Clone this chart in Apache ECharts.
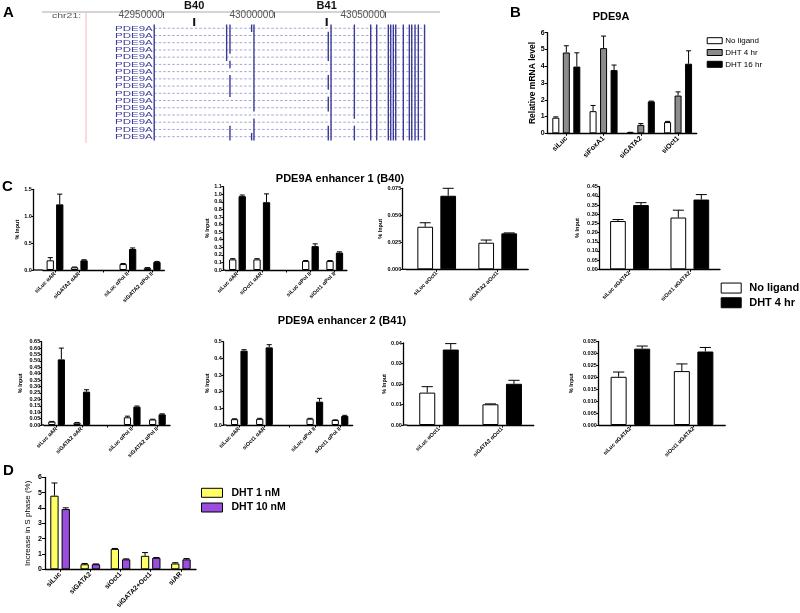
<!DOCTYPE html>
<html><head><meta charset="utf-8">
<script src="https://cdn.jsdelivr.net/npm/echarts@6/dist/echarts.min.js"></script>
<style>html,body{margin:0;padding:0;background:#fff}#c{width:800px;height:613px}</style>
</head><body><div id="c"></div>
<script>
// ================= DATA =================
// Panel A : genome browser (chr21)
const genomeTicks = [42950000, 43000000, 43050000];
const trackLabels = ['PDE9A','PDE9A','PDE9A','PDE9A','PDE9A','PDE9A','PDE9A','PDE9A','PDE9A','PDE9A','PDE9A','PDE9A','PDE9A','PDE9A','PDE9A','PDE9A'];
const trackStart = 42946100;
const trackEnd = 43067800;
const ALL = [0,1,2,3,4,5,6,7,8,9,10,11,12,13,14,15];
const exonPositions = [42946100, 42978700, 42980200, 42989950, 42991000, 43024460, 43025700, 43036200,
  43043560, 43046260, 43051490, 43052570, 43053740, 43054820, 43058240, 43060950, 43062030, 43063510, 43065000, 43067800];
const exonRows = [
  ALL,
  [0,1,2,3,4],
  [0,1,2,3,5,7,8,9,14,15],
  [0,15],
  [0,1,2,3,4,5,6,7,8,9,10,11,13,14,15],
  [1,2,3,4,7,8,10,11,14,15],
  ALL,
  [0,1,2,3,4,5,6,7,8,9,10,11,12,14,15],
  ALL, ALL, ALL, ALL, ALL, ALL, ALL, ALL, ALL, ALL, ALL, ALL
];
const enhancerNames = ['B40', 'B41'];
const enhancerPositions = [42964100, 43023740];

// Panel B : PDE9A mRNA
const bCategories = ['siLuc', 'siFoxA1', 'siGATA2', 'siOct1'];
const bNoLigand = [0.93, 1.32, 0.05, 0.67];
const bNoLigandErr = [0.05, 0.34, 0.01, 0.04];
const bDht4 = [4.82, 5.08, 0.50, 2.25];
const bDht4Err = [0.40, 0.72, 0.08, 0.22];
const bDht16 = [3.98, 3.77, 1.90, 4.15];
const bDht16Err = [0.82, 0.30, 0.02, 0.77];

// Panel C : ChIP (% input)
const c1Categories = ['siLuc αAR', 'siGATA2 αAR', '', 'siLuc αPol II', 'siGATA2 αPol II'];
const c1NoLigand = [0.18, 0.05, null, 0.11, 0.04];
const c1NoLigandErr = [0.05, 0.005, null, 0.01, 0.005];
const c1Dht4 = [1.22, 0.18, null, 0.39, 0.15];
const c1Dht4Err = [0.19, 0.01, null, 0.02, 0.01];

const c2Categories = ['siLuc αAR', 'siOct1 αAR', '', 'siLuc αPol II', 'siOct1 αPol II'];
const c2NoLigand = [0.14, 0.14, null, 0.12, 0.12];
const c2NoLigandErr = [0.01, 0.01, null, 0.005, 0.005];
const c2Dht4 = [0.975, 0.895, null, 0.315, 0.23];
const c2Dht4Err = [0.015, 0.11, null, 0.03, 0.01];

const c3Categories = ['siLuc αOct1', 'siGATA2 αOct1'];
const c3NoLigand = [0.0394, 0.0246];
const c3NoLigandErr = [0.0037, 0.0025];
const c3Dht4 = [0.0681, 0.0333];
const c3Dht4Err = [0.0069, 0.0004];

const c4Categories = ['siLuc αGATA2', 'siOct1 αGATA2'];
const c4NoLigand = [0.263, 0.282];
const c4NoLigandErr = [0.008, 0.040];
const c4Dht4 = [0.350, 0.380];
const c4Dht4Err = [0.013, 0.027];

const c5Categories = ['siLuc αAR', 'siGATA2 αAR', '', 'siLuc αPol II', 'siGATA2 αPol II'];
const c5NoLigand = [0.026, 0.018, null, 0.060, 0.043];
const c5NoLigandErr = [0.002, 0.002, null, 0.009, 0.002];
const c5Dht4 = [0.512, 0.260, null, 0.143, 0.083];
const c5Dht4Err = [0.088, 0.015, null, 0.005, 0.004];

const c6Categories = ['siLuc αAR', 'siOct1 αAR', '', 'siLuc αPol II', 'siOct1 αPol II'];
const c6NoLigand = [0.035, 0.037, null, 0.038, 0.030];
const c6NoLigandErr = [0.002, 0.003, null, 0.002, 0.001];
const c6Dht4 = [0.446, 0.466, null, 0.140, 0.054];
const c6Dht4Err = [0.006, 0.016, null, 0.020, 0.004];

const c7Categories = ['siLuc αOct1', 'siGATA2 αOct1'];
const c7NoLigand = [0.0158, 0.0101];
const c7NoLigandErr = [0.0029, 0.0002];
const c7Dht4 = [0.0368, 0.0201];
const c7Dht4Err = [0.0029, 0.0017];

const c8Categories = ['siLuc αGATA2', 'siOct1 αGATA2'];
const c8NoLigand = [0.0202, 0.0226];
const c8NoLigandErr = [0.0020, 0.0030];
const c8Dht4 = [0.0320, 0.0308];
const c8Dht4Err = [0.0011, 0.0017];

// Panel D : S phase
const dCategories = ['siLuc', 'siGATA2', 'siOct1', 'siGATA2+Oct1', 'siAR'];
const dDht1 = [4.80, 0.33, 1.33, 0.88, 0.38];
const dDht1Err = [0.83, 0.05, 0.03, 0.21, 0.05];
const dDht10 = [3.93, 0.33, 0.65, 0.75, 0.65];
const dDht10Err = [0.08, 0.02, 0.03, 0.02, 0.05];

// ================= LAYOUT / STYLE =================
const FONT = 'Liberation Sans';
const grids = [], xAxes = [], yAxes = [], series = [], graphics = [];

function errorSeries(ax, vals, errs, k, n, barW, gapFrac, capW) {
  const data = [];
  vals.forEach((v, i) => { if (v != null && errs[i] != null) data.push([i, v, v + errs[i]]); });
  return {
    type: 'custom', xAxisIndex: ax, yAxisIndex: ax, z: 5, silent: true, data,
    encode: { x: 0, y: [1, 2] },
    renderItem: (params, api) => {
      const p0 = api.coord([api.value(0), api.value(1)]);
      const p1 = api.coord([api.value(0), api.value(2)]);
      const gap = barW * gapFrac, total = n * barW + (n - 1) * gap;
      const x = p0[0] - total / 2 + barW / 2 + k * (barW + gap);
      return { type: 'group', children: [
        { type: 'line', shape: { x1: x, y1: p0[1], x2: x, y2: p1[1] }, style: { stroke: '#000', lineWidth: 1 } },
        { type: 'line', shape: { x1: x - capW / 2, y1: p1[1], x2: x + capW / 2, y2: p1[1] }, style: { stroke: '#000', lineWidth: 1 } }
      ]};
    }
  };
}

function barAxes(idx, L, cats, o) {
  grids.push({ left: L.left, top: L.top, width: L.width, height: L.height });
  xAxes.push({
    type: 'category', gridIndex: idx, data: cats,
    axisLine: { show: true, lineStyle: { color: '#000', width: 1.3 } },
    axisTick: { show: true, alignWithLabel: true, length: 2.5, lineStyle: { color: '#000' } },
    axisLabel: { interval: 0, rotate: 45, fontSize: o.xFont, fontWeight: 'bold', color: '#000', fontFamily: FONT, margin: o.xMargin || 3 },
    splitLine: { show: false }
  });
  yAxes.push({
    type: 'value', gridIndex: idx, min: 0, max: L.max, interval: L.interval,
    offset: L.left - L.axisX,
    name: o.name, nameLocation: 'middle', nameRotate: 90, nameGap: L.nameGap,
    nameTextStyle: { fontSize: o.nameFont, fontWeight: o.nameWeight || 'bold', color: '#000', fontFamily: FONT },
    axisLine: { show: true, lineStyle: { color: '#000', width: 1.3 } },
    axisTick: { show: true, length: o.tickLen || 2.5, lineStyle: { color: '#000' } },
    axisLabel: { fontSize: o.yFont, fontWeight: 'bold', color: '#000', fontFamily: FONT, margin: o.yMargin || 2,
      formatter: v => v.toFixed(L.digits) },
    splitLine: { show: false }
  });
  if (L.left - L.axisX > 0.3) {
    graphics.push({ type: 'line', silent: true, shape: { x1: L.axisX, y1: L.top + L.height, x2: L.left, y2: L.top + L.height },
      style: { stroke: '#000', lineWidth: 1.3 } });
  }
}

// ---------- Panel A ----------
grids.push({ left: 154, top: 12, width: 271, height: 131.9 });
xAxes.push({
  type: 'value', gridIndex: 0, position: 'top', min: 42946000, max: 43068000,
  axisLine: { show: false, onZero: false },
  axisTick: { show: true, inside: true, length: 6, customValues: genomeTicks, lineStyle: { color: '#555' } },
  axisLabel: { show: true, inside: true, customValues: genomeTicks, align: 'right', verticalAlign: 'middle', margin: 3.5,
    fontSize: 10, color: '#555', fontFamily: FONT, formatter: v => String(v) },
  splitLine: { show: false }
});
yAxes.push({
  type: 'value', gridIndex: 0, inverse: true, min: -2.25, max: 16,
  axisLine: { show: false, onZero: false }, axisTick: { show: false }, splitLine: { show: false },
  axisLabel: { show: false }
});
const intronData = trackLabels.map((t, i) => [i, trackStart, trackEnd]);
series.push({
  type: 'custom', xAxisIndex: 0, yAxisIndex: 0, silent: true, data: intronData, clip: false,
  encode: { y: 0, x: [1, 2] },
  renderItem: (params, api) => {
    const a = api.coord([api.value(1), api.value(0)]);
    const b = api.coord([api.value(2), api.value(0)]);
    return { type: 'group', children: [
      { type: 'line', shape: { x1: a[0], y1: a[1], x2: b[0], y2: b[1] },
        style: { stroke: '#a4a4da', lineWidth: 1, lineDash: [2.5, 2] } },
      { type: 'text', x: a[0] - 1.5, y: a[1] + 0.3, scaleY: 0.62,
        style: { text: trackLabels[params.dataIndex], x: 0, y: 0, align: 'right', verticalAlign: 'middle',
        fontSize: 11.5, fontFamily: FONT, fill: '#3c3c9a' } }
    ]};
  }
});
const exonData = [];
exonPositions.forEach((p, j) => exonRows[j].forEach(r => exonData.push([p, r])));
series.push({
  type: 'custom', xAxisIndex: 0, yAxisIndex: 0, silent: true, z: 3, data: exonData,
  encode: { x: 0, y: 1 },
  renderItem: (params, api) => {
    const c = api.coord([api.value(0), api.value(1)]);
    const h = api.size([0, 1])[1] + 0.3;
    return { type: 'rect', shape: { x: c[0] - 0.7, y: c[1] - h / 2, width: 1.4, height: h }, style: { fill: '#3a3a96' } };
  }
});
series.push({
  type: 'custom', xAxisIndex: 0, yAxisIndex: 0, silent: true, z: 4, clip: false,
  data: enhancerPositions.map((p, i) => [p, -0.87, enhancerNames[i]]),
  encode: { x: 0, y: 1 },
  renderItem: (params, api) => {
    const c = api.coord([api.value(0), api.value(1)]);
    return { type: 'group', children: [
      { type: 'rect', shape: { x: c[0] - 1, y: c[1] - 4, width: 2, height: 8 }, style: { fill: '#111' } },
      { type: 'text', style: { text: enhancerNames[params.dataIndex], x: c[0], y: c[1] - 16, align: 'center', verticalAlign: 'middle',
        fontSize: 11, fontWeight: 'bold', fontFamily: FONT, fill: '#111' } }
    ]};
  }
});
graphics.push({ type: 'line', silent: true, shape: { x1: 42, y1: 12, x2: 440, y2: 12 }, style: { stroke: '#aaa', lineWidth: 1 } });
graphics.push({ type: 'line', silent: true, shape: { x1: 86, y1: 12, x2: 86, y2: 143 }, style: { stroke: '#f2b8b8', lineWidth: 1 } });
graphics.push({ type: 'text', silent: true, x: 52, y: 15.5, scaleY: 0.75,
  style: { text: 'chr21:', x: 0, y: 0, fontSize: 10.5, fill: '#555', fontFamily: FONT, verticalAlign: 'middle' } });

// ---------- Panel B ----------
barAxes(1, { left: 547.7, axisX: 547.7, top: 32.7, width: 149, height: 100.6, max: 6, interval: 1, digits: 0, nameGap: 10 }, bCategories,
  { name: 'Relative mRNA level', nameFont: 8.5, xFont: 7, yFont: 7, tickLen: 3, yMargin: 3, xMargin: 4 });
const bSeries = [
  { name: 'No ligand', v: bNoLigand, e: bNoLigandErr, color: '#fff' },
  { name: 'DHT 4 hr', v: bDht4, e: bDht4Err, color: '#8c8c8c' },
  { name: 'DHT 16 hr', v: bDht16, e: bDht16Err, color: '#000' }
];
bSeries.forEach((s, k) => {
  series.push({ type: 'bar', name: s.name, xAxisIndex: 1, yAxisIndex: 1, data: s.v, barWidth: 7, barGap: '50%',
    itemStyle: { color: s.color, borderColor: '#000', borderWidth: 1 } });
});
bSeries.forEach((s, k) => series.push(errorSeries(1, s.v, s.e, k, 3, 7, 0.5, 5)));

// ---------- Panel C ----------
const cLayout = [
  { axisX: 33.3, left: 42.85, width: 121.5, top: 189.3, height: 80.7, max: 1.5, interval: 0.5, digits: 1, nameGap: 6.3, barW: 7.3, gap: 0.3 },
  { axisX: 223.3, left: 225.3, width: 121.6, top: 186.7, height: 83.3, max: 1.1, interval: 0.1, digits: 1, nameGap: 12, barW: 7.3, gap: 0.3 },
  { axisX: 402.7, left: 406.2, width: 122, top: 188.3, height: 81, max: 0.075, interval: 0.025, digits: 3, nameGap: 14, barW: 15.7, gap: 0.465 },
  { axisX: 599.3, left: 599.3, width: 120.7, top: 186.7, height: 82.6, max: 0.45, interval: 0.05, digits: 2, nameGap: 18.5, barW: 15.7, gap: 0.465 },
  { axisX: 41.7, left: 44, width: 126, top: 341.7, height: 83.3, max: 0.65, interval: 0.05, digits: 2, nameGap: 18, barW: 7.2, gap: 0.32 },
  { axisX: 223.3, left: 226.7, width: 125.9, top: 341.7, height: 83.3, max: 0.5, interval: 0.1, digits: 1, nameGap: 13, barW: 7.2, gap: 0.32 },
  { axisX: 403.3, left: 407.4, width: 126.4, top: 343, height: 82, max: 0.04, interval: 0.01, digits: 2, nameGap: 14.5, barW: 16, gap: 0.47 },
  { axisX: 598.3, left: 598.8, width: 126.4, top: 341.5, height: 83.5, max: 0.035, interval: 0.005, digits: 3, nameGap: 24, barW: 16, gap: 0.47 }
];
const cData = [
  [c1Categories, c1NoLigand, c1NoLigandErr, c1Dht4, c1Dht4Err],
  [c2Categories, c2NoLigand, c2NoLigandErr, c2Dht4, c2Dht4Err],
  [c3Categories, c3NoLigand, c3NoLigandErr, c3Dht4, c3Dht4Err],
  [c4Categories, c4NoLigand, c4NoLigandErr, c4Dht4, c4Dht4Err],
  [c5Categories, c5NoLigand, c5NoLigandErr, c5Dht4, c5Dht4Err],
  [c6Categories, c6NoLigand, c6NoLigandErr, c6Dht4, c6Dht4Err],
  [c7Categories, c7NoLigand, c7NoLigandErr, c7Dht4, c7Dht4Err],
  [c8Categories, c8NoLigand, c8NoLigandErr, c8Dht4, c8Dht4Err]
];
cLayout.forEach((L, j) => {
  const ax = 2 + j;
  const [cats, w, we, b, be] = cData[j];
  barAxes(ax, L, cats, { name: '% Input', nameFont: 5.5, xFont: 5.5, yFont: 5.5, tickLen: 2, yMargin: 1.5, xMargin: 3 });
  const gapStr = (L.gap * 100) + '%';
  series.push({ type: 'bar', name: 'No ligand', xAxisIndex: ax, yAxisIndex: ax, data: w, barWidth: L.barW, barGap: gapStr,
    itemStyle: { color: '#fff', borderColor: '#000', borderWidth: 1 } });
  series.push({ type: 'bar', name: 'DHT 4 hr ', xAxisIndex: ax, yAxisIndex: ax, data: b, barWidth: L.barW, barGap: gapStr,
    itemStyle: { color: '#000', borderColor: '#000', borderWidth: 1 } });
  series.push(errorSeries(ax, w, we, 0, 2, L.barW, L.gap, L.barW * 0.7));
  series.push(errorSeries(ax, b, be, 1, 2, L.barW, L.gap, L.barW * 0.7));
});

// ---------- Panel D ----------
barAxes(10, { left: 45, axisX: 45, top: 477.3, width: 151, height: 92, max: 6, interval: 1, digits: 0, nameGap: 13 }, dCategories,
  { name: 'Increase in S phase (%)', nameFont: 8, nameWeight: 'normal', xFont: 6.8, yFont: 7, tickLen: 3, yMargin: 3, xMargin: 4 });
series.push({ type: 'bar', name: 'DHT 1 nM', xAxisIndex: 10, yAxisIndex: 10, data: dDht1, barWidth: 8.3, barGap: '36%',
  itemStyle: { color: '#ffff66', borderColor: '#000', borderWidth: 1 } });
series.push({ type: 'bar', name: 'DHT 10 nM', xAxisIndex: 10, yAxisIndex: 10, data: dDht10, barWidth: 8.3, barGap: '36%',
  itemStyle: { color: '#9b4ddc', borderColor: '#000', borderWidth: 1 } });
series.push(errorSeries(10, dDht1, dDht1Err, 0, 2, 8.3, 0.36, 6));
series.push(errorSeries(10, dDht10, dDht10Err, 1, 2, 8.3, 0.36, 6));

// ---------- titles & legends ----------
const titles = [
  { text: 'A', left: 3, top: 5, textStyle: { fontSize: 15, fontWeight: 'bold', fontFamily: FONT, color: '#000' } },
  { text: 'B', left: 510, top: 5, textStyle: { fontSize: 15, fontWeight: 'bold', fontFamily: FONT, color: '#000' } },
  { text: 'C', left: 2, top: 179, textStyle: { fontSize: 15, fontWeight: 'bold', fontFamily: FONT, color: '#000' } },
  { text: 'D', left: 3, top: 463, textStyle: { fontSize: 15, fontWeight: 'bold', fontFamily: FONT, color: '#000' } },
  { text: 'PDE9A', left: 611, top: 11, textAlign: 'center', textStyle: { fontSize: 11, fontWeight: 'bold', fontFamily: FONT, color: '#000' } },
  { text: 'PDE9A enhancer 1 (B40)', left: 340, top: 173, textAlign: 'center', textStyle: { fontSize: 11, fontWeight: 'bold', fontFamily: FONT, color: '#000' } },
  { text: 'PDE9A enhancer 2 (B41)', left: 342, top: 315, textAlign: 'center', textStyle: { fontSize: 11, fontWeight: 'bold', fontFamily: FONT, color: '#000' } }
].map(t => Object.assign({ padding: 0, itemGap: 0 }, t));

const legends = [
  { left: 706.7, top: 35.7, orient: 'vertical', icon: 'rect', itemWidth: 15, itemHeight: 6, itemGap: 1.8, padding: 0,
    selectedMode: false,
    textStyle: { fontSize: 8, lineHeight: 10, fontFamily: FONT, color: '#000', padding: [0, 0, 0, -2] },
    data: [
      { name: 'No ligand', itemStyle: { color: '#fff', borderColor: '#000', borderWidth: 1 } },
      { name: 'DHT 4 hr', itemStyle: { color: '#8c8c8c', borderColor: '#000', borderWidth: 1 } },
      { name: 'DHT 16 hr', itemStyle: { color: '#000', borderColor: '#000', borderWidth: 1 } }
    ] },
  { left: 720.7, top: 282.3, orient: 'vertical', icon: 'rect', itemWidth: 20, itemHeight: 10, itemGap: 3.2, padding: 0,
    selectedMode: false,
    textStyle: { fontSize: 11, lineHeight: 11.5, fontWeight: 'bold', fontFamily: FONT, color: '#000', padding: [0, 0, 0, 3] },
    data: [
      { name: 'No ligand', itemStyle: { color: '#fff', borderColor: '#000', borderWidth: 1 } },
      { name: 'DHT 4 hr ', itemStyle: { color: '#000', borderColor: '#000', borderWidth: 1 } }
    ] },
  { left: 201, top: 487.3, orient: 'vertical', icon: 'rect', itemWidth: 21, itemHeight: 9, itemGap: 3.7, padding: 0,
    selectedMode: false,
    textStyle: { fontSize: 10.5, lineHeight: 11, fontWeight: 'bold', fontFamily: FONT, color: '#000', padding: [0, 0, 0, 4] },
    data: [
      { name: 'DHT 1 nM', itemStyle: { color: '#ffff66', borderColor: '#000', borderWidth: 1 } },
      { name: 'DHT 10 nM', itemStyle: { color: '#9b4ddc', borderColor: '#000', borderWidth: 1 } }
    ] }
];

const chart = echarts.init(document.getElementById('c'), null, { renderer: 'canvas' });
chart.setOption({
  animation: false,
  backgroundColor: '#fff',
  textStyle: { fontFamily: FONT },
  title: titles,
  legend: legends,
  grid: grids,
  xAxis: xAxes,
  yAxis: yAxes,
  series: series,
  graphic: graphics
});
</script></body></html>
